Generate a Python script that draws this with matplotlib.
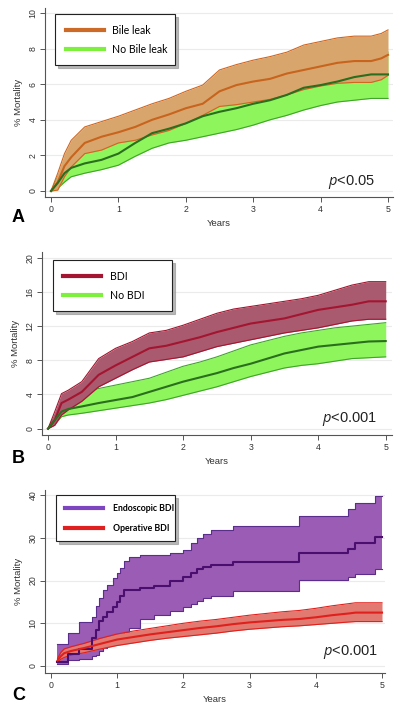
import matplotlib.pyplot as plt
from matplotlib.lines import Line2D

plt.rcParams['font.family'] = ['Liberation Sans', 'DejaVu Sans']
plt.rcParams['mathtext.fontset'] = 'custom'
plt.rcParams['mathtext.it'] = 'Open Sans:italic'
plt.rcParams['mathtext.rm'] = 'Open Sans'

# ---- Panel A: bile leak vs no bile leak ----
t_a = [0, 0.1, 0.2, 0.3, 0.5, 0.75, 1.0, 1.25, 1.5, 1.75, 2.0, 2.25, 2.5, 2.75,
       3.0, 3.25, 3.5, 3.75, 4.0, 4.25, 4.5, 4.75, 4.9, 5.0]
leak_mean = [0, 0.5, 1.4, 1.9, 2.7, 3.05, 3.3, 3.6, 4.0, 4.3, 4.65, 4.9, 5.6, 5.95,
             6.15, 6.3, 6.6, 6.8, 7.0, 7.2, 7.3, 7.3, 7.45, 7.65]
leak_hi = [0, 1.0, 2.1, 2.85, 3.6, 3.9, 4.2, 4.55, 4.9, 5.2, 5.6, 5.95, 6.8, 7.1,
           7.35, 7.55, 7.8, 8.2, 8.4, 8.6, 8.7, 8.7, 8.85, 9.05]
leak_lo = [0, 0.05, 0.8, 1.35, 2.1, 2.3, 2.7, 2.85, 3.15, 3.4, 3.8, 4.25, 4.75, 4.85,
           5.0, 5.15, 5.4, 5.7, 5.9, 6.05, 6.1, 6.1, 6.25, 6.5]
noleak_mean = [0, 0.45, 1.0, 1.3, 1.55, 1.75, 2.1, 2.7, 3.25, 3.5, 3.8, 4.2, 4.45, 4.65,
               4.9, 5.1, 5.4, 5.8, 5.95, 6.15, 6.4, 6.55, 6.55, 6.55]
noleak_hi = [0, 0.8, 1.5, 1.85, 2.15, 2.35, 2.8, 3.4, 4.0, 4.3, 4.7, 5.2, 5.5, 5.8,
             6.1, 6.2, 6.5, 7.0, 7.1, 7.3, 7.6, 7.8, 7.8, 7.8]
noleak_lo = [0, 0.15, 0.5, 0.8, 1.0, 1.2, 1.45, 1.95, 2.4, 2.7, 2.85, 3.05, 3.25, 3.45,
             3.7, 4.0, 4.25, 4.55, 4.8, 5.0, 5.1, 5.2, 5.2, 5.2]

# ---- Panel B: BDI vs no BDI ----
t_b = [0, 0.1, 0.2, 0.3, 0.5, 0.75, 1.0, 1.25, 1.5, 1.75, 2.0, 2.25, 2.5, 2.75,
       3.0, 3.25, 3.5, 3.75, 4.0, 4.25, 4.5, 4.75, 5.0]
bdi_mean = [0, 1.0, 3.0, 3.4, 4.3, 6.3, 7.4, 8.4, 9.4, 9.7, 10.2, 10.7, 11.3, 11.8,
            12.3, 12.6, 12.9, 13.4, 13.9, 14.2, 14.5, 14.9, 14.9]
bdi_hi = [0, 2.0, 4.1, 4.5, 5.5, 8.2, 9.4, 10.2, 11.2, 11.5, 12.1, 12.8, 13.5, 14.0,
          14.3, 14.6, 14.9, 15.2, 15.6, 16.2, 16.8, 17.2, 17.2]
bdi_lo = [0, 0.4, 1.6, 2.2, 3.2, 4.9, 5.9, 6.9, 7.8, 8.1, 8.4, 9.0, 9.6, 10.0,
          10.4, 10.8, 11.2, 11.5, 11.8, 12.2, 12.6, 12.8, 12.8]
nobdi_mean = [0, 1.0, 2.0, 2.3, 2.6, 3.0, 3.35, 3.7, 4.3, 4.9, 5.5, 6.0, 6.5, 7.1,
              7.6, 8.2, 8.8, 9.2, 9.6, 9.8, 10.0, 10.2, 10.25]
nobdi_hi = [0, 1.5, 2.8, 3.4, 4.1, 4.7, 5.1, 5.5, 5.9, 6.6, 7.3, 7.8, 8.4, 9.1,
            9.8, 10.3, 10.8, 11.2, 11.5, 11.8, 12.0, 12.2, 12.4]
nobdi_lo = [0, 0.5, 1.4, 1.6, 1.8, 2.1, 2.4, 2.7, 3.0, 3.4, 3.9, 4.4, 4.9, 5.5,
            6.1, 6.6, 7.1, 7.4, 7.6, 7.9, 8.2, 8.3, 8.4]

# ---- Panel C: endoscopic vs operative BDI ----
t_endo = [0.09, 0.25, 0.42, 0.62, 0.68, 0.73, 0.78, 0.85, 0.93, 0.99, 1.05, 1.1, 1.18,
          1.35, 1.55, 1.8, 2.0, 2.12, 2.2, 2.3, 2.42, 2.75, 3.74, 4.49, 4.59, 4.89, 5.0]
endo_mean = [1.0, 2.8, 4.0, 6.5, 8.5, 10.5, 11.5, 12.7, 13.9, 15.0, 16.5, 17.8, 17.8,
             18.3, 18.8, 19.8, 20.8, 21.8, 22.6, 23.2, 23.6, 24.4, 26.4, 27.5, 28.7, 30.3, 30.3]
endo_hi = [5.2, 7.8, 10.3, 11.5, 14.0, 16.0, 17.8, 19.0, 20.5, 21.8, 23.0, 24.5, 25.4,
           26.0, 26.0, 26.4, 27.2, 28.7, 30.0, 31.0, 31.8, 32.8, 35.0, 36.7, 38.1, 39.7, 39.7]
endo_lo = [0.5, 1.3, 1.7, 2.3, 2.5, 3.5, 4.3, 5.2, 6.0, 6.8, 7.2, 8.0, 9.0,
           11.0, 12.0, 12.8, 13.8, 14.5, 15.3, 15.9, 16.5, 17.6, 20.1, 20.9, 21.6, 22.8, 22.8]
t_op = [0.1, 0.15, 0.2, 0.3, 0.5, 0.75, 1.0, 1.25, 1.5, 1.75, 2.0, 2.25, 2.5, 2.75,
        3.0, 3.25, 3.5, 3.75, 4.0, 4.25, 4.5, 4.6, 5.0]
op_mean = [1.3, 2.3, 3.0, 3.5, 4.2, 5.2, 6.2, 6.8, 7.4, 7.9, 8.4, 8.9, 9.3, 9.8,
           10.2, 10.5, 10.8, 11.0, 11.4, 11.9, 12.3, 12.5, 12.5]
op_hi = [1.8, 3.2, 4.0, 4.5, 5.3, 6.5, 7.5, 8.2, 8.8, 9.4, 10.0, 10.5, 10.9, 11.4,
         11.9, 12.3, 12.7, 13.0, 13.5, 14.1, 14.6, 14.8, 14.8]
op_lo = [0.9, 1.6, 2.0, 2.5, 3.1, 4.0, 4.8, 5.4, 6.0, 6.5, 6.9, 7.3, 7.7, 8.2,
         8.6, 8.9, 9.2, 9.4, 9.7, 10.0, 10.3, 10.4, 10.4]

W, H = 400, 706
fig = plt.figure(figsize=(W / 100, H / 100), dpi=100)


def make_axes(left, right, top, bottom, xlim, ylim, yticks):
    ax = fig.add_axes([left / W, 1 - bottom / H, (right - left) / W, (bottom - top) / H])
    ax.set_xlim(*xlim)
    ax.set_ylim(*ylim)
    ax.set_xticks([0, 1, 2, 3, 4, 5])
    ax.set_yticks(yticks)
    ax.set_yticklabels([str(v) for v in yticks], rotation=90, va='center')
    for s in ['top', 'right']:
        ax.spines[s].set_visible(False)
    for s in ['left', 'bottom']:
        ax.spines[s].set_color('#555555')
        ax.spines[s].set_linewidth(0.8)
    ax.tick_params(length=3.5, width=0.7, color='#555555', labelsize=6.3,
                   labelcolor='#333333', pad=2)
    ax.yaxis.grid(True, color='#ebebeb', lw=0.8)
    ax.set_axisbelow(True)
    ax.set_xlabel('Years', fontsize=6.8, color='#333333', labelpad=4)
    ax.set_ylabel('% Mortality', fontsize=6.8, color='#333333', labelpad=4)
    return ax


def band(ax, t, lo, hi, mean, fill, edge, line, z, step=False):
    # z = (fill, edges, mean) zorders
    kw = dict(step='post') if step else {}
    ds = 'steps-post' if step else 'default'
    ax.fill_between(t, lo, hi, color=fill, lw=0, zorder=z[0], **kw)
    ax.plot(t, lo, color=edge, lw=0.8, drawstyle=ds, zorder=z[1])
    ax.plot(t, hi, color=edge, lw=0.8, drawstyle=ds, zorder=z[1])
    ax.plot(t, mean, color=line, lw=1.5, drawstyle=ds, zorder=z[2])


def legend(ax, labels, colors, box, fs, weight, hl, ls, tp):
    handles = [Line2D([], [], color=c, lw=3) for c in colors]
    leg = ax.legend(handles, labels, loc='upper left', bbox_to_anchor=box, mode='expand',
                    borderaxespad=0, fancybox=False,
                    shadow={'ox': 2, 'oy': -2, 'color': '#9a9a9a', 'alpha': 0.7},
                    framealpha=1, edgecolor='#222222', handlelength=hl,
                    handletextpad=tp, labelspacing=ls, borderpad=1.0,
                    prop={'family': 'Lato', 'size': fs, 'weight': weight})
    leg.get_frame().set_linewidth(0.8)
    leg.set_zorder(20)


# Panel A
ax = make_axes(45, 393, 8, 197, (-0.089, 5.074), (-0.337, 10.28), [0, 2, 4, 6, 8, 10])
band(ax, t_a, noleak_lo, noleak_hi, noleak_mean, '#8ef55c', '#3fa52a', '#2a6e1e', (1, 1.5, 6))
band(ax, t_a, leak_lo, leak_hi, leak_mean, '#d8a66c', '#d0661e', '#c8641e', (2, 3, 5))
legend(ax, ['Bile leak', 'No Bile leak'], ['#cc6a28', '#7cf03c'], (0.029, 0.968, 0.345, 0),
       7.6, 'normal', 3.6, 0.75, 0.8)
ax.text(0.948, 0.063, r'$\it{p}$<0.05', transform=ax.transAxes, ha='right',
        va='baseline', fontsize=10.5, color='#222222')
fig.text(12 / W, 1 - 222 / H, 'A', fontsize=13, fontweight='bold')

# Panel B
ax = make_axes(42, 392, 252, 435, (-0.089, 5.093), (-0.74, 20.67), [0, 4, 8, 12, 16, 20])
band(ax, t_b, nobdi_lo, nobdi_hi, nobdi_mean, '#8ef55c', '#3fa52a', '#2a6e1e', (1, 1.5, 6))
band(ax, t_b, bdi_lo, bdi_hi, bdi_mean, '#aa5a6e', '#a31530', '#a31530', (2, 3, 5))
legend(ax, ['BDI', 'No BDI'], ['#a31530', '#7cf03c'], (0.031, 0.956, 0.34, 0),
       7.6, 'normal', 3.6, 0.75, 0.8)
ax.text(0.957, 0.073, r'$\it{p}$<0.001', transform=ax.transAxes, ha='right',
        va='baseline', fontsize=10.5, color='#222222')
fig.text(12 / W, 1 - 463 / H, 'B', fontsize=13, fontweight='bold')

# Panel C
ax = make_axes(45, 385, 490, 673, (-0.09, 5.045), (-1.64, 41.2), [0, 10, 20, 30, 40])
band(ax, t_endo, endo_lo, endo_hi, endo_mean, '#9a5cb5', '#5b2d8c', '#4a0e6e', (1, 1.5, 4), step=True)
band(ax, t_op, op_lo, op_hi, op_mean, '#e27a72', '#e0201c', '#e0201c', (2, 3, 5))
legend(ax, ['Endoscopic BDI', 'Operative BDI'], ['#7d45c0', '#e02020'], (0.032, 0.973, 0.35, 0),
       6.3, 'bold', 4.4, 1.25, 1.1)
ax.text(0.979, 0.097, r'$\it{p}$<0.001', transform=ax.transAxes, ha='right',
        va='baseline', fontsize=10.5, color='#222222')
fig.text(12 / W, 1 - 700 / H, 'C', fontsize=13, fontweight='bold')

fig.savefig('out.png', dpi=100)
